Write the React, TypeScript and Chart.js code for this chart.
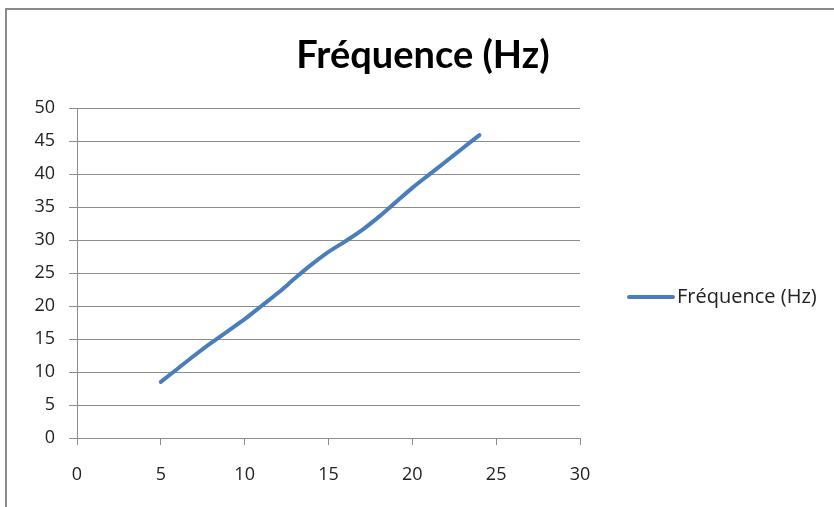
import React, { useEffect, useRef } from "react";
import { Chart, registerables } from "chart.js";

Chart.register(...registerables);

const seriesLabel = "Fréquence (Hz)";
const titleText = "Fréquence (Hz)";
const xValues = [5, 6, 7, 8, 9, 10, 11, 12, 13, 14, 15, 16, 17, 18, 19, 20, 21, 22, 23, 24];
const yValues = [8.5, 10.5, 12.5, 14.4, 16.2, 18.0, 20.0, 22.0, 24.2, 26.3, 28.2, 29.8, 31.5, 33.5, 35.7, 37.9, 39.9, 41.9, 43.9, 45.9];

const TITLE_FONT = "Lato, 'Open Sans', sans-serif";
const FONT = "'Open Sans', Lato, sans-serif";
const LINE_COLOR = "#4a7ebb";
const GRID_COLOR = "#8c8c8c";

const textPlugin = {
  id: "excelText",
  afterDraw(chart: any) {
    const ctx = chart.ctx;
    ctx.save();
    // title
    ctx.fillStyle = "#000";
    ctx.font = `bold 38px ${TITLE_FONT}`;
    ctx.textAlign = "center";
    ctx.textBaseline = "middle";
    ctx.fillText(titleText, 423, 56);
    // legend
    const ds = chart.data.datasets[0];
    ctx.strokeStyle = ds.borderColor;
    ctx.lineWidth = 4;
    ctx.lineCap = "round";
    ctx.beginPath();
    ctx.moveTo(629, 297);
    ctx.lineTo(673, 297);
    ctx.stroke();
    ctx.fillStyle = "#222";
    ctx.font = `20px ${FONT}`;
    ctx.textAlign = "left";
    ctx.textBaseline = "middle";
    ctx.fillText(ds.label, 677, 297);
    ctx.restore();
  },
};

export default function App() {
  const ref = useRef<HTMLCanvasElement | null>(null);
  useEffect(() => {
    if (!ref.current) return;
    const chart = new Chart(ref.current, {
      type: "line",
      data: {
        datasets: [
          {
            label: seriesLabel,
            data: xValues.map((x, i) => ({ x, y: yValues[i] })),
            borderColor: LINE_COLOR,
            backgroundColor: LINE_COLOR,
            borderWidth: 4,
            pointRadius: 0,
            tension: 0.3,
            borderCapStyle: "round",
            fill: false,
          },
        ],
      },
      options: {
        animation: false,
        responsive: false,
        maintainAspectRatio: false,
        layout: { padding: { left: 0, right: 254, top: 108, bottom: 0 } },
        plugins: {
          legend: { display: false },
          title: { display: false },
          tooltip: { enabled: false },
        },
        scales: {
          x: {
            type: "linear",
            min: 0,
            max: 30,
            ticks: { stepSize: 5, font: { family: FONT, size: 18 }, color: "#222", padding: 19 },
            grid: { drawOnChartArea: false, drawTicks: true, tickLength: 7, color: GRID_COLOR },
            border: { color: GRID_COLOR },
            afterFit: (s: any) => {
              s.height = 69;
            },
          },
          y: {
            min: 0,
            max: 50,
            ticks: { stepSize: 5, font: { family: FONT, size: 18 }, color: "#222", padding: 14 },
            grid: { color: GRID_COLOR, tickLength: 8 },
            border: { color: GRID_COLOR },
            afterFit: (s: any) => {
              s.width = 77;
            },
          },
        },
      },
      plugins: [textPlugin],
    } as any);
    return () => chart.destroy();
  }, []);
  return (
    <div style={{ position: "fixed", left: 0, top: 0, width: 834, height: 507, background: "#fff" }}>
      <div
        style={{
          position: "absolute",
          left: 5,
          top: 8,
          width: 840,
          height: 520,
          border: "2px solid #8c8c8c",
          boxSizing: "border-box",
        }}
      />
      <canvas ref={ref} width={834} height={507} style={{ position: "absolute", left: 0, top: 0 }} />
    </div>
  );
}
